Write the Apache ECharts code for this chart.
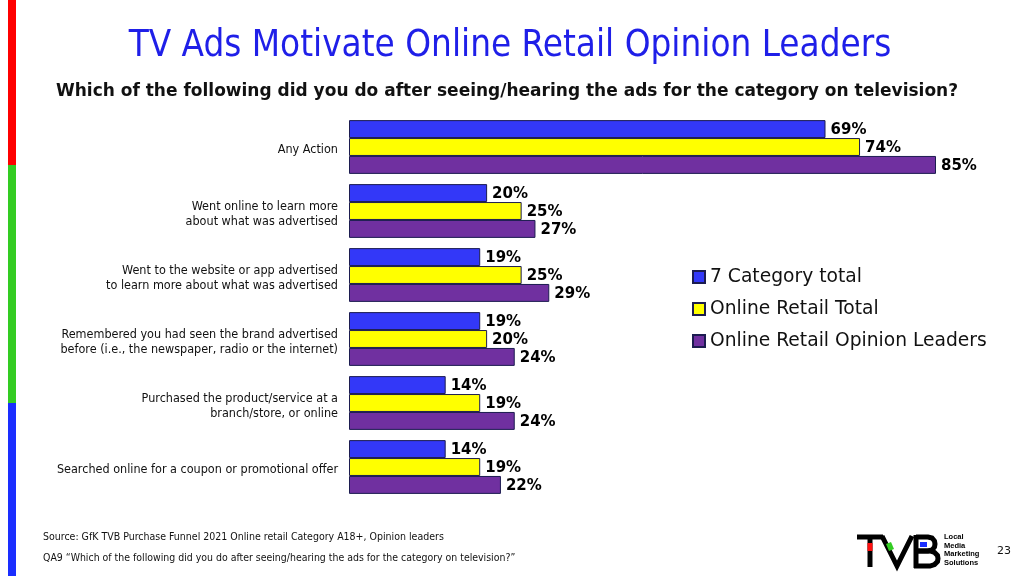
<!DOCTYPE html>
<html><head><meta charset="utf-8">
<script src="https://cdn.jsdelivr.net/npm/echarts@6/dist/echarts.min.js"></script>
<style>html,body{margin:0;padding:0;background:#fff}#c{width:1024px;height:576px}</style>
</head><body><div id="c"></div>
<script>
const categories = [
  "Any Action",
  "Went online to learn more\nabout what was advertised",
  "Went to the website or app advertised\nto learn more about what was advertised",
  "Remembered you had seen the brand advertised\nbefore (i.e., the newspaper, radio or the internet)",
  "Purchased the product/service at a\nbranch/store, or online",
  "Searched online for a coupon or promotional offer"
];
const seriesNames = ["7 Category total", "Online Retail Total", "Online Retail Opinion Leaders"];
const categoryTotal = [69, 20, 19, 19, 14, 14];
const retailTotal = [74, 25, 25, 20, 19, 19];
const opinionLeaders = [85, 27, 29, 24, 24, 22];
const colors = ["#3338F8", "#FFFF00", "#7030A0"];

const chart = echarts.init(document.getElementById('c'));
const FC = '"DejaVu Sans Condensed", sans-serif';
function mk(name, data, color) {
  return {
    name, type: 'bar', data, barGap: '0%', barCategoryGap: '16%',
    itemStyle: { color, borderColor: '#1C1C50', borderWidth: 1 },
    label: { show: true, position: 'right', distance: 5, offset: [0, 1.5], formatter: '{c}%',
      fontFamily: "DejaVu Sans, sans-serif", fontWeight: 'bold', fontSize: 15, color: '#000' }
  };
}
const logoStroke = { stroke: '#000', lineWidth: 5, fill: null };
chart.setOption({
  animation: false,
  grid: { left: 349, right: 88, top: 115, bottom: 77, containLabel: false },
  xAxis: { type: 'value', min: 0, max: 85, show: false },
  yAxis: { type: 'category', data: categories, inverse: true,
    axisLine: { show: false }, axisTick: { show: false },
    axisLabel: { margin: 11, fontFamily: FC, fontSize: 12.5, color: '#111', lineHeight: 15, align: 'right',
      formatter: v => '{s|}\n' + v.split('\n').map(l => '{t|' + l + '}').join('\n'),
      rich: { s: { lineHeight: 6, fontSize: 1 }, t: { fontFamily: FC, fontSize: 12.5, lineHeight: 15, color: '#111' } } } },
  legend: { orient: 'vertical', left: 687, top: 262, itemGap: 12, itemWidth: 12, itemHeight: 12,
    icon: 'rect', data: seriesNames,
    textStyle: { fontFamily: "DejaVu Sans, sans-serif", fontSize: 18.7, lineHeight: 20, color: '#111' } },
  series: [mk(seriesNames[0], categoryTotal, colors[0]), mk(seriesNames[1], retailTotal, colors[1]), mk(seriesNames[2], opinionLeaders, colors[2])],
  graphic: [
    { type: 'rect', shape: { x: 8, y: 0, width: 8, height: 165 }, style: { fill: '#FF0000' } },
    { type: 'rect', shape: { x: 8, y: 165, width: 8, height: 238 }, style: { fill: '#33CC22' } },
    { type: 'rect', shape: { x: 8, y: 403, width: 8, height: 173 }, style: { fill: '#1A2EFF' } },
    { type: 'text', x: 510, y: 47, style: { text: 'TV Ads Motivate Online Retail Opinion Leaders', fill: '#1F1FE8',
      font: '36.5px "DejaVu Sans Condensed", sans-serif', align: 'center', verticalAlign: 'middle' } },
    { type: 'text', x: 507, y: 92, style: { text: 'Which of the following did you do after seeing/hearing the ads for the category on television?', fill: '#111',
      font: 'bold 17px "DejaVu Sans", sans-serif', align: 'center', verticalAlign: 'middle' } },
    { type: 'text', x: 43, y: 537, style: { text: 'Source: GfK TVB Purchase Funnel 2021 Online retail Category A18+, Opinion leaders', fill: '#111',
      font: '10.5px "DejaVu Sans Condensed", sans-serif', verticalAlign: 'middle' } },
    { type: 'text', x: 43, y: 558, style: { text: 'QA9 \u201cWhich of the following did you do after seeing/hearing the ads for the category on television?\u201d', fill: '#111',
      font: '10.45px "DejaVu Sans Condensed", sans-serif', verticalAlign: 'middle' } },
    { type: 'text', x: 1004, y: 551, style: { text: '23', fill: '#111', font: '11px "DejaVu Sans", sans-serif', align: 'center', verticalAlign: 'middle' } },
    { type: 'polyline', shape: { points: [[857, 537], [883, 537]] }, style: logoStroke },
    { type: 'polyline', shape: { points: [[870, 537], [870, 567]] }, style: logoStroke },
    { type: 'polyline', shape: { points: [[882, 536], [897, 566], [912, 536]] }, style: logoStroke },
    { type: 'polyline', shape: { points: [[916, 535], [916, 568]] }, style: logoStroke },
    { type: 'polyline', shape: { points: [[916, 537], [928, 537], [932, 538], [934.5, 541], [935, 544], [934.5, 547], [932, 550], [928, 551], [916, 551]] }, style: logoStroke },
    { type: 'polyline', shape: { points: [[916, 551], [930, 551], [934.5, 552.5], [937.5, 555.5], [938, 558.5], [937.5, 561.5], [934.5, 564.5], [930, 566], [914, 566]] }, style: logoStroke },
    { type: 'rect', shape: { x: 867.5, y: 543, width: 5, height: 8 }, style: { fill: '#FF1010' } },
    { type: 'polygon', shape: { points: [[886, 544], [891, 542], [894, 549], [889, 551]] }, style: { fill: '#33CC22' } },
    { type: 'rect', shape: { x: 920, y: 542, width: 7, height: 5 }, style: { fill: '#1A2EFF' } },
    { type: 'text', x: 944, y: 550, style: { text: 'Local\nMedia\nMarketing\nSolutions', fill: '#000', lineHeight: 8.5,
      font: 'bold 7.5px "Liberation Sans", sans-serif', verticalAlign: 'middle' } }
  ]
});
</script></body></html>
